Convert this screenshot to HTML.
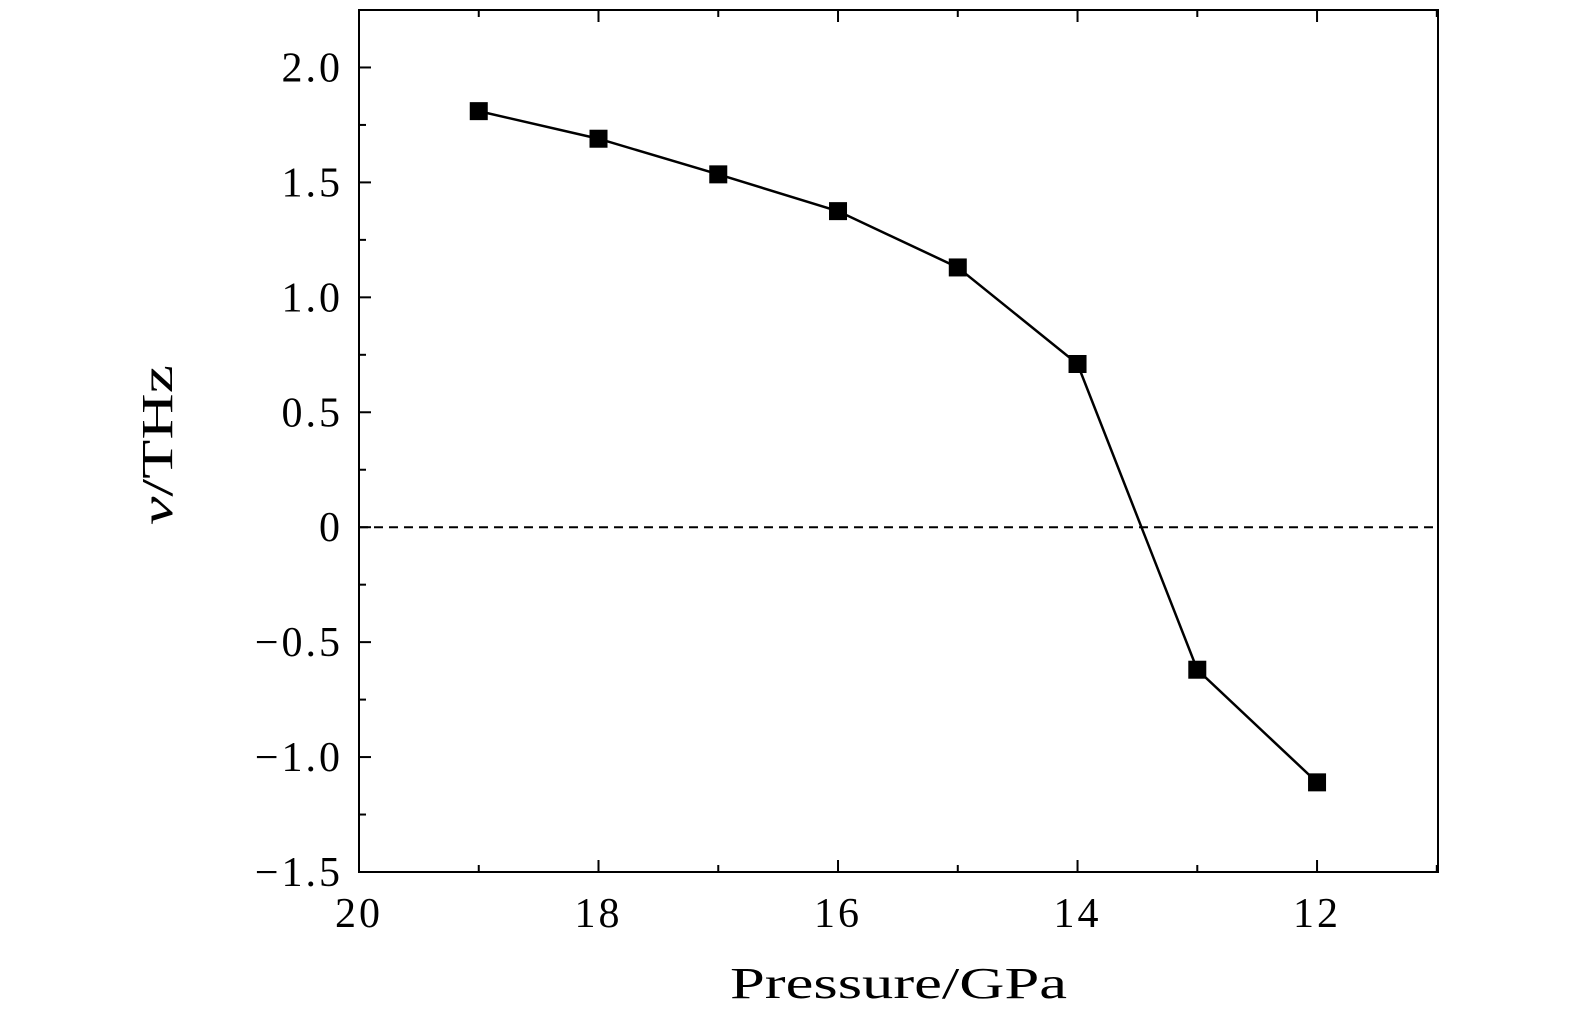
<!DOCTYPE html>
<html><head><meta charset="utf-8"><style>
html,body{margin:0;padding:0;background:#fff;}
svg text{font-family:"Liberation Serif",serif;fill:#000;}
</style></head><body>
<svg id="chart" width="1575" height="1024" viewBox="0 0 1575 1024" xmlns="http://www.w3.org/2000/svg">
<g id="grid"></g>
<g id="marks"></g>
<text x="730" y="998" font-size="44" textLength="337" lengthAdjust="spacingAndGlyphs">Pressure/GPa</text>
<text transform="translate(172,525) rotate(-90)" font-size="44" textLength="160" lengthAdjust="spacingAndGlyphs"><tspan font-style="italic">ν</tspan>/THz</text>
</svg>
<script>
const pressures = [19, 18, 17, 16, 15, 14, 13, 12];
const freqs = [1.81, 1.69, 1.535, 1.375, 1.13, 0.71, -0.62, -1.11];
const xTicks = [20, 18, 16, 14, 12];
const yTicks = [2.0, 1.5, 1.0, 0.5, 0, -0.5, -1.0, -1.5];
const yTickLabels = ["2.0", "1.5", "1.0", "0.5", "0", "\u22120.5", "\u22121.0", "\u22121.5"];

const L = 359, R = 1438, T = 10, B = 872;
const xMin = 20, xMax = 10.99, yMin = -1.5, yMax = 2.25;
const sx = v => L + (xMin - v) / (xMin - xMax) * (R - L);
const sy = v => B - (v - yMin) / (yMax - yMin) * (B - T);
const NS = "http://www.w3.org/2000/svg";
const g = document.getElementById('grid'), m = document.getElementById('marks');
function el(tag, attrs, parent) {
  const e = document.createElementNS(NS, tag);
  for (const k in attrs) e.setAttribute(k, attrs[k]);
  parent.appendChild(e); return e;
}
const frame = el('rect', {x: L, y: T, width: R - L, height: B - T, fill: 'none', stroke: '#000', 'stroke-width': 2}, g);


for (let v = 20; v >= 11; v -= 1) {
  const x = sx(v), len = (v % 2 === 0) ? 12 : 7;
  const t1 = el('line', {x1: x, x2: x, y1: B, y2: B - len, stroke: '#000', 'stroke-width': 2}, g);
  
  
  const t2 = el('line', {x1: x, x2: x, y1: T, y2: T + len, stroke: '#000', 'stroke-width': 2}, g);
  
  
}
xTicks.forEach(v => {
  const t = el('text', {x: sx(v), y: 927, 'font-size': 42, 'letter-spacing': 3, 'text-anchor': 'middle'}, g);
  t.textContent = String(v);
  
  
});
for (let i = 0; i <= 15; i++) {
  const v = -1.5 + i * 0.25, y = sy(v), len = (i % 2 === 0) ? 12 : 7;
  const t = el('line', {x1: L, x2: L + len, y1: y, y2: y, stroke: '#000', 'stroke-width': 2}, g);
  
  
}
yTicks.forEach((v, i) => {
  const t = el('text', {x: 343, y: sy(v) + 14, 'font-size': 42, 'letter-spacing': 3, 'text-anchor': 'end'}, g);
  t.textContent = yTickLabels[i];
  
  
});
const z = el('line', {x1: L, x2: R, y1: sy(0), y2: sy(0), stroke: '#000', 'stroke-width': 2, 'stroke-dasharray': '9,6'}, m);


const pl = el('polyline', {points: pressures.map((p, i) => sx(p) + ',' + sy(freqs[i])).join(' '), fill: 'none', stroke: '#000', 'stroke-width': 2.5}, m);


pressures.forEach((p, i) => {
  const s = el('rect', {x: sx(p) - 9, y: sy(freqs[i]) - 9, width: 18, height: 18, fill: '#000'}, m);
  
  
});
</script>
</body></html>
